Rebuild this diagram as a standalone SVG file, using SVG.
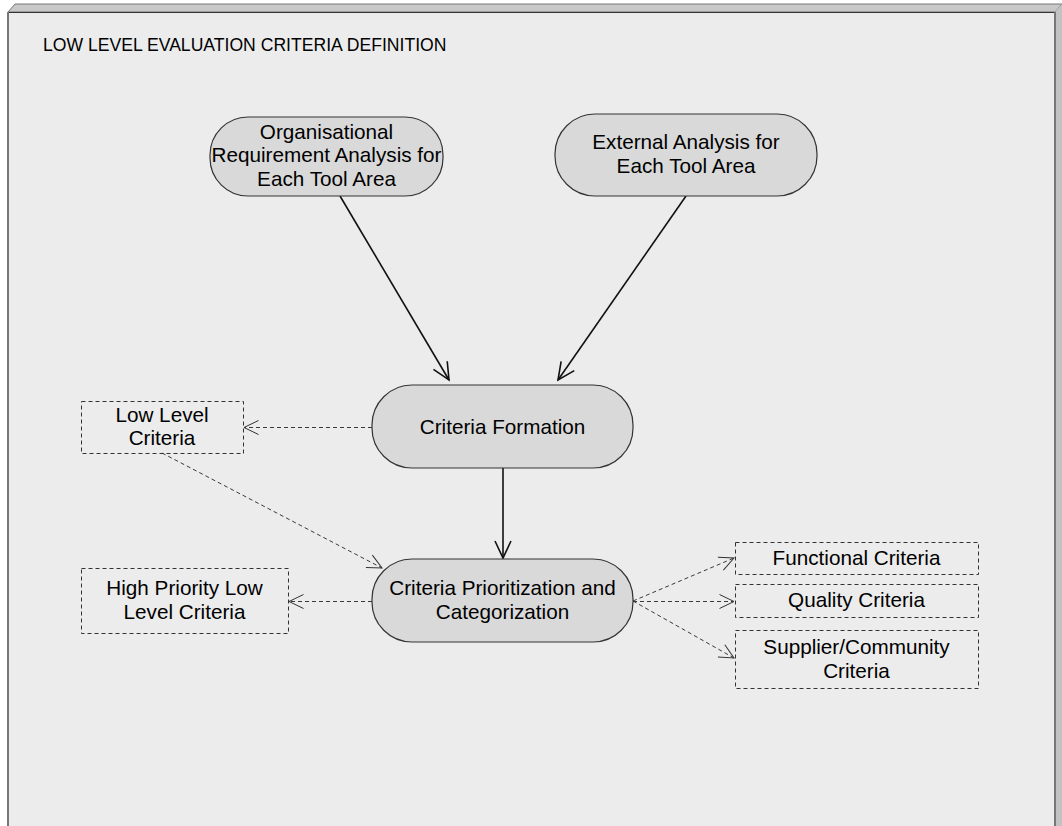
<svg xmlns="http://www.w3.org/2000/svg" width="1062" height="826" viewBox="0 0 1062 826">
  <style>
    text { font-family: "Liberation Sans", Arial, sans-serif; font-size: 20.7px; fill: #000; }
    .title { font-size: 17.6px; }
    .c { text-anchor: middle; }
    .proc { fill: #d9d9d9; stroke: #333; stroke-width: 1.2; }
    .obj { fill: none; stroke: #333; stroke-width: 1; stroke-dasharray: 4 3; }
    .flow { fill: none; stroke: #111; stroke-width: 1.6; marker-end: url(#open-solid); }
    .dep { fill: none; stroke: #3a3a3a; stroke-width: 1; stroke-dasharray: 4 3; marker-end: url(#open-dash); }
  </style>
  <defs>
    <marker id="open-solid" viewBox="-20 -10 22 20" refX="0" refY="0" markerWidth="22" markerHeight="20" markerUnits="userSpaceOnUse" orient="auto">
      <path d="M -17 -8 L 0 0 L -17 8" fill="none" stroke="#111" stroke-width="1.6"/>
    </marker>
    <marker id="open-dash" viewBox="-18 -9 20 18" refX="0" refY="0" markerWidth="20" markerHeight="18" markerUnits="userSpaceOnUse" orient="auto">
      <path d="M -14.5 -7 L 0 0 L -14.5 7" fill="none" stroke="#333" stroke-width="1"/>
    </marker>
  </defs>

  <!-- page background -->
  <rect x="0" y="0" width="1062" height="826" fill="#ffffff"/>

  <!-- frame: bevelled panel -->
  <g id="frame">
    <polygon points="8,12 15,4 1062,4 1055,12" fill="#c8c8c8" stroke="#777" stroke-width="1"/>
    <polygon points="1055,12 1062,4 1062,826 1055,826" fill="#c2c2c2"/>
    <rect x="8" y="12" width="1047" height="820" fill="#ececec"/>
    <line x1="8" y1="12.5" x2="1055" y2="12.5" stroke="#333" stroke-width="1.2"/>
    <line x1="8" y1="12" x2="8" y2="826" stroke="#777" stroke-width="2"/>
    <line x1="1055" y1="12" x2="1055" y2="826" stroke="#777" stroke-width="2"/>
    <text class="title" x="43" y="51">LOW LEVEL EVALUATION CRITERIA DEFINITION</text>
  </g>

  <!-- connectors -->
  <g id="connectors">
    <line class="flow" x1="340" y1="196" x2="449" y2="380"/>
    <line class="flow" x1="686" y1="196" x2="558" y2="380"/>
    <line class="flow" x1="503" y1="468" x2="503" y2="558"/>
    <line class="dep" x1="372" y1="427.5" x2="244" y2="427.5"/>
    <line class="dep" x1="162" y1="453" x2="382" y2="568"/>
    <line class="dep" x1="372" y1="601.5" x2="289" y2="601.5"/>
    <line class="dep" x1="633" y1="601" x2="734" y2="558"/>
    <line class="dep" x1="633" y1="601.5" x2="734" y2="601.5"/>
    <line class="dep" x1="633" y1="601" x2="734" y2="658"/>
  </g>

  <!-- process nodes -->
  <g id="org-analysis">
    <rect class="proc" x="210" y="117" width="233" height="79" rx="38" ry="38"/>
    <text class="c" x="326.5" y="138.5">Organisational</text>
    <text class="c" x="326.5" y="162">Requirement Analysis for</text>
    <text class="c" x="326.5" y="185.5">Each Tool Area</text>
  </g>
  <g id="ext-analysis">
    <rect class="proc" x="555" y="114" width="262" height="82" rx="40" ry="40"/>
    <text class="c" x="686" y="148.5">External Analysis for</text>
    <text class="c" x="686" y="173">Each Tool Area</text>
  </g>
  <g id="criteria-formation">
    <rect class="proc" x="372" y="385" width="261" height="83" rx="40" ry="40"/>
    <text class="c" x="502.5" y="433.5">Criteria Formation</text>
  </g>
  <g id="criteria-prioritization">
    <rect class="proc" x="372" y="559" width="261" height="83" rx="40" ry="40"/>
    <text class="c" x="502.5" y="595">Criteria Prioritization and</text>
    <text class="c" x="502.5" y="619">Categorization</text>
  </g>

  <!-- object nodes -->
  <g id="low-level-criteria">
    <rect class="obj" x="81.5" y="401.5" width="162" height="52"/>
    <text class="c" x="162" y="421.5">Low Level</text>
    <text class="c" x="162" y="445">Criteria</text>
  </g>
  <g id="high-priority-criteria">
    <rect class="obj" x="81.5" y="568.5" width="207" height="65"/>
    <text class="c" x="184.5" y="594.5">High Priority Low</text>
    <text class="c" x="184.5" y="618.5">Level Criteria</text>
  </g>
  <g id="functional-criteria">
    <rect class="obj" x="735.5" y="542.5" width="243" height="32"/>
    <text class="c" x="856.5" y="564.5">Functional Criteria</text>
  </g>
  <g id="quality-criteria">
    <rect class="obj" x="735.5" y="584.5" width="243" height="33"/>
    <text class="c" x="856.5" y="607">Quality Criteria</text>
  </g>
  <g id="supplier-criteria">
    <rect class="obj" x="735.5" y="630.5" width="243" height="58"/>
    <text class="c" x="856.5" y="653.5">Supplier/Community</text>
    <text class="c" x="856.5" y="677.5">Criteria</text>
  </g>
</svg>
